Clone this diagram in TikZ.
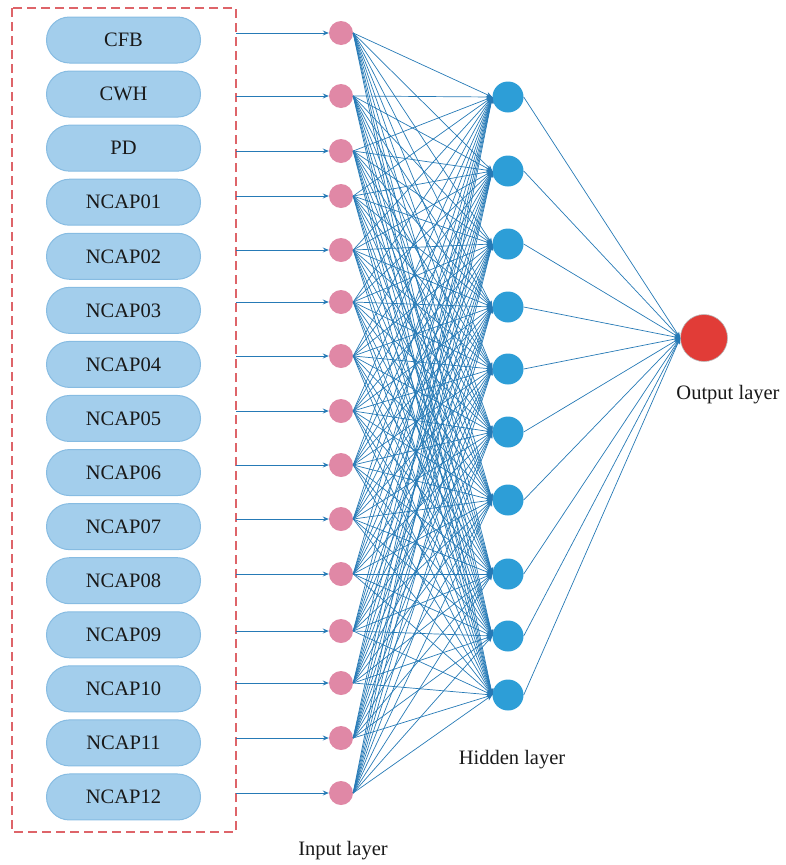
\documentclass[tikz,border=0pt]{standalone}
\usepackage{fontspec}
\setmainfont{Liberation Serif}
\usetikzlibrary{arrows.meta}
\definecolor{pillfill}{RGB}{163,206,236}
\definecolor{pilldraw}{RGB}{135,188,226}
\definecolor{inpink}{RGB}{224,136,166}
\definecolor{hidblue}{RGB}{45,158,215}
\definecolor{outred}{RGB}{225,60,55}
\definecolor{linkblue}{RGB}{38,122,182}
\definecolor{boxred}{RGB}{222,100,105}
\definecolor{txt}{RGB}{25,25,25}
\begin{document}
\begin{tikzpicture}[x=1pt,y=-1pt,
 pill/.style={draw=pilldraw, line width=1pt, fill=pillfill, rounded corners=23pt, minimum width=154pt, minimum height=46pt, inner sep=0pt, text=txt, font=\fontsize{20.5}{24}\selectfont},
 innode/.style={circle, fill=inpink, minimum size=24pt, inner sep=0pt},
 hidnode/.style={circle, fill=hidblue, minimum size=31pt, inner sep=0pt},
 outnode/.style={circle, fill=outred, draw=gray!55, line width=0.6pt, minimum size=47pt, inner sep=0pt},
 feed/.style={draw=linkblue, line width=1pt, -{Stealth[length=6pt,width=5pt]}},
 link/.style={draw=linkblue, line width=0.7pt, -{Stealth[length=6pt,width=5pt]}},
 lbl/.style={text=txt, font=\fontsize{20.5}{24}\selectfont}]
\useasboundingbox (0,0) rectangle (785,865);
\draw[boxred, line width=1.2pt, dash pattern=on 9pt off 5pt] (12,8) rectangle (236,832);
% input pills
\foreach \t [count=\i from 1] in {CFB,CWH,PD,NCAP01,NCAP02,NCAP03,NCAP04,NCAP05,NCAP06,NCAP07,NCAP08,NCAP09,NCAP10,NCAP11,NCAP12}
  \node[pill] (p\i) at (123.5,{40+54.07*(\i-1)}) {\t};
% input neurons
\foreach \y [count=\i from 1] in {33,96,151,196,250,302,356,411,465,519,574,631,683,738,793}{
  \node[innode] (in\i) at (341,\y) {};
  \coordinate (s\i) at (236,\y);
  \draw[feed] (s\i) -- (in\i.west);
}
% hidden neurons
\foreach \y [count=\j from 1] in {97,171,244,307,369,432,500,574,636,695}
  \node[hidnode] (h\j) at (508,\y) {};
% output
\node[outnode] (out) at (704,338) {};
% links
\foreach \i in {1,...,15}
  \foreach \j in {1,...,10}
    \draw[link] (in\i.east) -- (h\j.west);
\foreach \j in {1,...,10}
  \draw[link] (h\j.east) -- (out.west);
% labels
\node[lbl] (lin) at (343,851) {Input layer};
\node[lbl] (lhid) at (512,760) {Hidden layer};
\node[lbl] (lout) at (728,395) {Output layer};
\end{tikzpicture}
\end{document}
